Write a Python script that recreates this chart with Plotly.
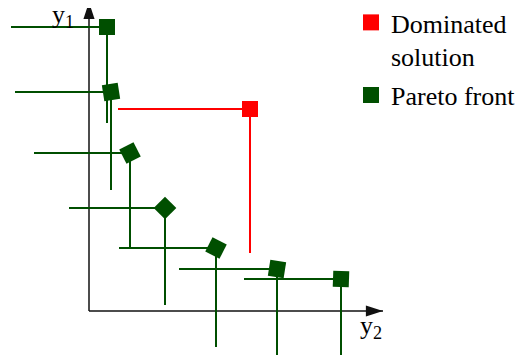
import plotly.graph_objects as go

# Pareto front points (y2 across, y1 up), measured from the axes corner
pareto_y2 = [18, 22, 41, 76, 127, 188, 252]
pareto_y1 = [284, 219, 158, 103, 63, 42, 32]
pareto_angle = [0, -9, -27, 45, 27, 9, 2]
# where each point's guide lines end (left and downward)
pareto_left = [-78, -74, -55, -20, 30, 90, 155]
pareto_bottom = [188, 121, 62, 6, -36, -50, -50]

# the dominated solution
dominated_y2 = [161]
dominated_y1 = [202]
dominated_left = [29]
dominated_bottom = [58]

GREEN = '#004f00'
RED = '#ff0000'
FONT = 'Liberation Serif'


def guide_lines(xs, ys, lefts, bottoms):
    gx, gy = [], []
    for x, y, l, b in zip(xs, ys, lefts, bottoms):
        gx += [l, x, None, x, x, None]
        gy += [y, y, None, y, b, None]
    return gx, gy


px, py = guide_lines(pareto_y2, pareto_y1, pareto_left, pareto_bottom)
rx, ry = guide_lines(dominated_y2, dominated_y1, dominated_left, dominated_bottom)

data = [
    # axes with arrow heads
    go.Scatter(x=[0, 0, None, 0, 294], y=[309, 0, None, 0, 0], mode='lines',
               line=dict(color='#111111', width=1.5), showlegend=False, hoverinfo='skip'),
    go.Scatter(x=[0, 294], y=[309, 0], mode='markers',
               marker=dict(symbol='arrow', size=18, angle=[0, 90], color='#111111'),
               showlegend=False, hoverinfo='skip'),
    go.Scatter(x=px, y=py, mode='lines', line=dict(color=GREEN, width=2),
               showlegend=False, hoverinfo='skip'),
    go.Scatter(x=rx, y=ry, mode='lines', line=dict(color=RED, width=2),
               showlegend=False, hoverinfo='skip'),
    go.Scatter(x=dominated_y2, y=dominated_y1, mode='markers', name='Dominated<br>solution',
               marker=dict(symbol='square', size=16, color=RED), legendgroup='a'),
    go.Scatter(x=pareto_y2, y=pareto_y1, mode='markers', name='Pareto front',
               marker=dict(symbol='square', size=16, color=GREEN, angle=pareto_angle),
               legendgroup='b'),
]

# the page has an 8px body margin, so the figure is 8px smaller each way
layout = go.Layout(
    width=515, height=347,
    margin=dict(l=0, r=0, t=0, b=0, autoexpand=False),
    paper_bgcolor='white', plot_bgcolor='white',
    xaxis=dict(range=[-81, 434], visible=False),
    yaxis=dict(range=[-44, 303], visible=False),
    legend=dict(x=0.666, y=1.026, xanchor='left', yanchor='top',
                font=dict(family=FONT, size=26, color='black'),
                bgcolor='rgba(0,0,0,0)', itemwidth=30, tracegroupgap=2,
                valign='top', traceorder='grouped'),
    annotations=[
        dict(x=-13, y=1.03, xref='x', yref='paper', text='y<sub>1</sub>', showarrow=False,
             xanchor='right', yanchor='top', font=dict(family=FONT, size=26, color='black')),
        dict(x=269, y=2, xref='x', yref='y', text='y<sub>2</sub>', showarrow=False,
             xanchor='left', yanchor='top', font=dict(family=FONT, size=26, color='black')),
    ],
)

fig = go.Figure(data=data, layout=layout)
fig.write_html('out.html')
